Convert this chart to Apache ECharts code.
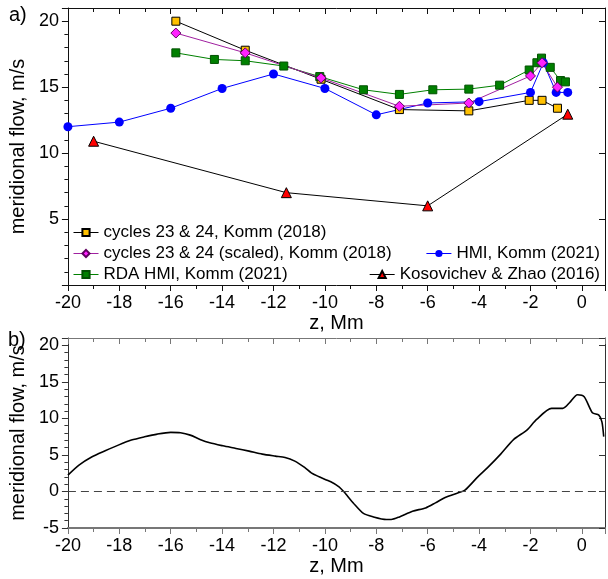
<!DOCTYPE html>
<html>
<head>
<meta charset="utf-8">
<script src="https://cdn.jsdelivr.net/npm/echarts/dist/echarts.min.js"></script>
<style>
html,body{margin:0;padding:0;background:#fff;}
#chart{width:608px;height:579px;}
</style>
</head>
<body>
<div id="chart"></div>
<script>
// ---- Data (panel a) ----
const cycX  = [-15.8, -13.1, -10.15, -7.1, -4.4, -2.05, -1.55, -0.95];
const cycY  = [20.0, 17.8, 15.6, 13.3, 13.2, 14.0, 14.0, 13.4];
const cycSX = [-15.8, -13.1, -10.15, -7.1, -4.4, -2.0, -1.55, -0.95];
const cycSY = [19.1, 17.6, 15.7, 13.55, 13.8, 15.85, 16.85, 15.0];
const rdaX  = [-15.8, -14.3, -13.1, -11.6, -10.2, -8.5, -7.1, -5.8, -4.4, -3.2, -2.05, -1.75, -1.57, -1.23, -0.83, -0.64];
const rdaY  = [17.6, 17.1, 17.0, 16.6, 15.8, 14.8, 14.45, 14.8, 14.85, 15.15, 16.3, 16.85, 17.2, 16.5, 15.5, 15.4];
const hmiX  = [-20, -18, -16, -14, -12, -10, -8, -6, -4, -2, -1.5, -1, -0.55];
const hmiY  = [12.0, 12.35, 13.4, 14.9, 16.0, 14.9, 12.9, 13.8, 13.9, 14.6, 16.85, 14.6, 14.6];
const kzX   = [-19, -11.5, -6, -0.55];
const kzY   = [10.9, 7.0, 6.0, 12.95];
// ---- Data (panel b) ----
const curveX = [-20, -19.57, -19.06, -18.55, -18.04, -17.53, -17.02, -16.52, -16.0, -15.62, -15.24, -14.86, -14.48, -13.97, -13.46, -12.95, -12.44, -11.93, -11.55, -11.17, -10.79, -10.53, -10.28, -9.77, -9.45, -9.26, -8.88, -8.5, -8.12, -7.61, -7.42, -7.1, -6.59, -6.08, -5.7, -5.32, -4.81, -4.55, -4.05, -3.66, -3.16, -2.65, -2.14, -1.76, -1.18, -0.74, -0.48, -0.17, 0.09, 0.41, 0.66, 0.78, 0.85];
const curveY = [2.23, 3.6, 4.74, 5.56, 6.34, 7.03, 7.48, 7.85, 8.08, 8.03, 7.71, 7.12, 6.66, 6.25, 5.89, 5.52, 5.11, 4.84, 4.66, 4.15, 3.29, 2.55, 2.1, 1.32, 0.63, -0.05, -1.64, -3.01, -3.48, -3.84, -3.84, -3.48, -2.7, -2.25, -1.56, -0.82, -0.19, 0.18, 2.0, 3.29, 5.11, 7.12, 8.4, 9.86, 11.37, 11.37, 12.14, 13.23, 12.96, 10.77, 10.45, 9.53, 7.5];
// ---- Labels ----
const names = ['cycles 23 & 24, Komm (2018)', 'cycles 23 & 24 (scaled), Komm (2018)', 'RDA HMI, Komm (2021)', 'HMI, Komm (2021)', 'Kosovichev & Zhao (2016)'];
const xTitle = 'z, Mm';
const yTitle = 'meridional flow, m/s';
const panelLabels = ['a)', 'b)'];

const zip = (xs, ys) => xs.map((x, i) => [x, ys[i]]);
const FONT = "'Liberation Sans', Arial, sans-serif";
const XMIN = -20, XMAX = 0.9;

function xAxes(grid, color, width) {
  const base = {gridIndex: grid, type: 'value', min: XMIN, max: XMAX, splitLine: {show: false}};
  return [
    Object.assign({}, base, {
      position: 'bottom', interval: 2,
      axisLine: {show: true, onZero: false, lineStyle: {color: color, width: width}},
      axisTick: {show: true, inside: false, length: 6, lineStyle: {color: color}},
      axisLabel: {fontSize: 18, color: '#000', margin: 9, fontFamily: FONT,
        formatter: v => (v > 0.5 ? '' : String(v))},
      name: xTitle, nameLocation: 'middle', nameGap: 28,
      nameTextStyle: {fontSize: 20, color: '#000', fontFamily: FONT}
    }),
    Object.assign({}, base, {
      position: 'bottom', interval: 1,
      axisLine: {show: false, onZero: false},
      axisTick: {show: true, inside: false, length: 4, lineStyle: {color: color}},
      axisLabel: {show: false}
    }),
    Object.assign({}, base, {
      position: 'top', interval: 2,
      axisLine: {show: true, onZero: false, lineStyle: {color: color, width: 1}},
      axisTick: {show: true, inside: true, length: 6, lineStyle: {color: color}},
      axisLabel: {show: false}
    }),
    Object.assign({}, base, {
      position: 'top', interval: 1,
      axisLine: {show: false, onZero: false},
      axisTick: {show: true, inside: true, length: 4, lineStyle: {color: color}},
      axisLabel: {show: false}
    })
  ];
}

function yAxes(grid, min, max, color, fmt) {
  const base = {gridIndex: grid, type: 'value', min: min, max: max, splitLine: {show: false}};
  return [
    Object.assign({}, base, {
      position: 'left', interval: 5,
      axisLine: {show: true, onZero: false, lineStyle: {color: color, width: 1}},
      axisTick: {show: true, inside: false, length: 6, lineStyle: {color: color}},
      axisLabel: {fontSize: 18, color: '#000', margin: 9, fontFamily: FONT, formatter: fmt},
      name: yTitle, nameLocation: 'middle', nameGap: 36,
      nameTextStyle: {fontSize: 20, color: '#000', fontFamily: FONT}
    }),
    Object.assign({}, base, {
      position: 'left', interval: 1,
      axisLine: {show: false, onZero: false},
      axisTick: {show: true, inside: false, length: 3.5, lineStyle: {color: color}},
      axisLabel: {show: false}
    }),
    Object.assign({}, base, {
      position: 'right', interval: 5,
      axisLine: {show: true, onZero: false, lineStyle: {color: color}},
      axisTick: {show: true, inside: true, length: 6, lineStyle: {color: color}},
      axisLabel: {show: false}
    })
  ];
}

const chart = echarts.init(document.getElementById('chart'), null, {renderer: 'canvas'});
const GW = (XMAX - XMIN) * 26.2;
const legText = {fontSize: 17, lineHeight: 17, color: '#000', fontFamily: FONT};

const option = {
  animation: false,
  backgroundColor: '#fff',
  textStyle: {fontFamily: FONT},
  grid: [
    {left: 62, top: 8, width: GW, height: 277},
    {left: 62, top: 338, width: GW, height: 190}
  ],
  xAxis: [].concat(xAxes(0, '#111', 1), xAxes(1, '#777', 2)),
  yAxis: [].concat(
    yAxes(0, 0, 21, '#111', v => (v === 0 || v === 21) ? '' : String(v)),
    yAxes(1, -5, 21, '#333', v => (v === 21) ? '' : String(v))
  ),
  legend: [
    {data: names.slice(0, 3), orient: 'vertical', left: 68, top: 219, itemWidth: 25, itemHeight: 9, itemGap: 4,
     selectedMode: false, lineStyle: {width: 1}, textStyle: legText},
    {data: [names[3]], orient: 'vertical', right: 3, top: 240, itemWidth: 25, itemHeight: 9,
     selectedMode: false, lineStyle: {width: 1}, textStyle: legText},
    {data: [names[4]], orient: 'vertical', right: 3, top: 261, itemWidth: 25, itemHeight: 9,
     selectedMode: false, lineStyle: {width: 1}, textStyle: legText}
  ],
  graphic: [
    {type: 'text', left: 9, top: 5, style: {text: panelLabels[0], fontSize: 20, fill: '#000', fontFamily: FONT}},
    {type: 'text', left: 8, top: 330, style: {text: panelLabels[1], fontSize: 20, fill: '#000', fontFamily: FONT}}
  ],
  series: [
    {name: names[0], type: 'line', xAxisIndex: 0, yAxisIndex: 0, data: zip(cycX, cycY),
     symbol: 'rect', symbolSize: 8, lineStyle: {color: '#000', width: 1},
     itemStyle: {color: '#FFC000', borderColor: '#000', borderWidth: 1}},
    {name: names[2], type: 'line', xAxisIndex: 0, yAxisIndex: 0, data: zip(rdaX, rdaY),
     symbol: 'rect', symbolSize: 8, lineStyle: {color: '#008000', width: 1},
     itemStyle: {color: '#008000', borderColor: '#005000', borderWidth: 1}},
    {name: names[3], type: 'line', xAxisIndex: 0, yAxisIndex: 0, data: zip(hmiX, hmiY),
     symbol: 'circle', symbolSize: 9, lineStyle: {color: '#0000FF', width: 1},
     itemStyle: {color: '#0000FF', borderColor: '#0000FF', borderWidth: 0}},
    {name: names[1], type: 'line', xAxisIndex: 0, yAxisIndex: 0, data: zip(cycSX, cycSY),
     symbol: 'diamond', symbolSize: 10, lineStyle: {color: '#A020A0', width: 1},
     itemStyle: {color: '#FF22FF', borderColor: '#600060', borderWidth: 1}},
    {name: names[4], type: 'line', xAxisIndex: 0, yAxisIndex: 0, data: zip(kzX, kzY),
     symbol: 'triangle', symbolSize: 10, lineStyle: {color: '#000', width: 1},
     itemStyle: {color: '#FF0000', borderColor: '#000', borderWidth: 1}},
    {name: 'b', type: 'line', xAxisIndex: 4, yAxisIndex: 3, data: zip(curveX, curveY),
     symbol: 'none', smooth: 0.25, lineStyle: {color: '#000', width: 1.6},
     markLine: {silent: true, symbol: 'none', label: {show: false},
       lineStyle: {color: '#444', type: [8, 5], width: 1},
       data: [{yAxis: 0}]}}
  ]
};
chart.setOption(option);
</script>
</body>
</html>
